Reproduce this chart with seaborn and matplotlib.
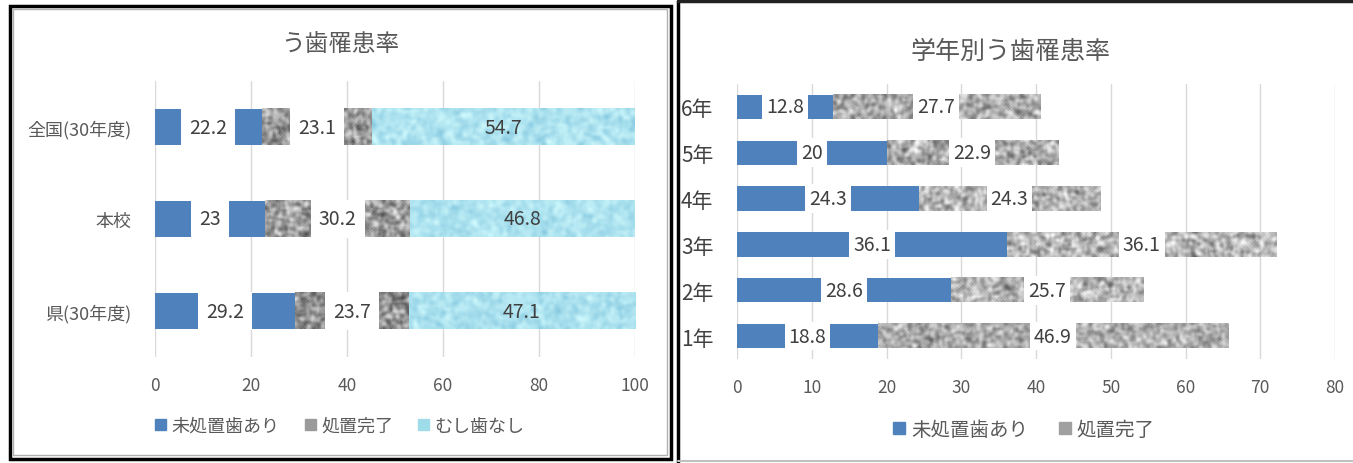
import numpy as np
import pandas as pd
import matplotlib
matplotlib.use("Agg")
import matplotlib.pyplot as plt
import matplotlib.patches as mpatches
from matplotlib.lines import Line2D
import seaborn as sns

# ---------------- data ----------------
left_title = "う歯罹患率"
left_categories = ["全国(30年度)", "本校", "県(30年度)"]
left_untreated = [22.2, 23, 29.2]
left_treated = [23.1, 30.2, 23.7]
left_none = [54.7, 46.8, 47.1]
left_series = ["未処置歯あり", "処置完了", "むし歯なし"]
left_xticks = [0, 20, 40, 60, 80, 100]

right_title = "学年別う歯罹患率"
right_categories = ["6年", "5年", "4年", "3年", "2年", "1年"]
right_untreated = [12.8, 20, 24.3, 36.1, 28.6, 18.8]
right_treated = [27.7, 22.9, 24.3, 36.1, 25.7, 46.9]
right_series = ["未処置歯あり", "処置完了"]
right_xticks = [0, 10, 20, 30, 40, 50, 60, 70, 80]

BLUE = "#4f81bd"
GRAY_MEAN = "#a6a6a6"
CYAN_MEAN = "#9fdcea"
TXT = "#595959"
LBL = "#404040"

sns.set_theme(style="white")
plt.rcParams["font.family"] = ["Noto Sans CJK JP", "DejaVu Sans"]

W, H = 1353, 464
fig = plt.figure(figsize=(W / 100, H / 100), dpi=100)


def fx(px):
    return px / W


def fy(py):
    return 1 - py / H


tex_rng = np.random.default_rng(7)


def smooth(a, n):
    for _ in range(n):
        a = (a + np.roll(a, 1, 0) + np.roll(a, -1, 0) + np.roll(a, 1, 1) + np.roll(a, -1, 1)) / 5.0
    return a


def gray_texture(h, w, light=0.0):
    a = smooth(tex_rng.random((h, w)), 2)
    a = (a - a.min()) / (np.ptp(a) + 1e-9)
    g = 0.30 + 0.62 * a + light
    g = np.clip(g, 0, 1)
    return np.dstack([g, g, g])


def cyan_texture(h, w):
    a = smooth(tex_rng.random((h, w)), 4)
    a = (a - a.min()) / (np.ptp(a) + 1e-9)
    b = smooth(tex_rng.random((h, w)), 1)
    b = (b - b.min()) / (np.ptp(b) + 1e-9)
    base = np.array([0.68, 0.89, 0.94])
    var = np.array([0.36, 0.24, 0.14])
    m = 0.75 * a + 0.25 * b
    img = base[None, None, :] + (m[:, :, None] - 0.5) * var[None, None, :]
    return np.clip(img, 0, 1)


def add_texture(ax, container, kind, light=0.0):
    for p in container.patches:
        x0, y0 = p.get_x(), p.get_y()
        w, h = p.get_width(), p.get_height()
        (px0, py0) = ax.transData.transform((x0, y0))
        (px1, py1) = ax.transData.transform((x0 + w, y0 + h))
        wp = max(2, int(abs(px1 - px0) / 1.5))
        hp = max(2, int(abs(py1 - py0) / 1.5))
        img = gray_texture(hp, wp, light) if kind == "gray" else cyan_texture(hp, wp)
        ax.imshow(img, extent=(x0, x0 + w, y0 + h, y0), aspect="auto",
                  interpolation="bilinear", zorder=p.get_zorder() + 0.1)


def style_axes(ax, xticks, ylabel_size, ylabel_color):
    ax.set_xlim(xticks[0], xticks[-1])
    ax.set_xticks(xticks)
    ax.xaxis.grid(True, color="#d9d9d9", linewidth=1)
    ax.set_axisbelow(True)
    for s in ax.spines.values():
        s.set_visible(False)
    ax.tick_params(axis="x", length=0, pad=14, labelsize=12.5, labelcolor=TXT)
    ax.tick_params(axis="y", length=0, pad=17, labelsize=ylabel_size, labelcolor=ylabel_color)
    ax.set_xlabel("")
    ax.set_ylabel("")


# ---------------- left chart ----------------
axL = fig.add_axes([fx(155), fy(358), fx(635) - fx(155), fy(82) - fy(358)])
off1 = np.array(left_untreated, dtype=float)
off2 = off1 + np.array(left_treated, dtype=float)
sns.barplot(x=left_untreated, y=left_categories, order=left_categories, orient="y",
            width=0.4, color=BLUE, saturation=1, linewidth=0, ax=axL)
sns.barplot(x=left_treated, y=left_categories, order=left_categories, orient="y",
            width=0.4, color=GRAY_MEAN, saturation=1, linewidth=0, left=off1, ax=axL)
sns.barplot(x=left_none, y=left_categories, order=left_categories, orient="y",
            width=0.4, color=CYAN_MEAN, saturation=1, linewidth=0, left=off2, ax=axL)
style_axes(axL, left_xticks, 13, TXT)
axL.set_ylim(len(left_categories) - 0.5, -0.5)
cL = axL.containers
add_texture(axL, cL[1], "gray")
add_texture(axL, cL[2], "cyan")
axL.set_xlim(left_xticks[0], left_xticks[-1])
axL.set_ylim(len(left_categories) - 0.5, -0.5)
box = dict(boxstyle="square,pad=0.42", fc="white", ec="none")
axL.bar_label(cL[0], labels=[f"{v:g}" for v in left_untreated], label_type="center",
              fontsize=14, color=LBL, bbox=box)
axL.bar_label(cL[1], labels=[f"{v:g}" for v in left_treated], label_type="center",
              fontsize=14, color=LBL, bbox=box)
axL.bar_label(cL[2], labels=[f"{v:g}" for v in left_none], label_type="center",
              fontsize=14, color=LBL)
hL = [mpatches.Patch(color=BLUE), mpatches.Patch(color="#9a9a9a"), mpatches.Patch(color=CYAN_MEAN)]
axL.legend(hL, left_series, loc="center", bbox_to_anchor=((340 - 155) / 480, -0.25),
           ncol=3, frameon=False, fontsize=13, labelcolor=TXT, handlelength=0.6,
           handleheight=0.6, handletextpad=0.3, columnspacing=1.4)
fig.text(fx(340), fy(45), left_title, ha="center", va="center", fontsize=17, color=TXT)

# ---------------- right chart ----------------
axR = fig.add_axes([fx(737), fy(360), fx(1335) - fx(737), fy(85) - fy(360)])
roff = np.array(right_untreated, dtype=float)
sns.barplot(x=right_untreated, y=right_categories, order=right_categories, orient="y",
            width=0.53, color=BLUE, saturation=1, linewidth=0, ax=axR)
sns.barplot(x=right_treated, y=right_categories, order=right_categories, orient="y",
            width=0.53, color=GRAY_MEAN, saturation=1, linewidth=0, left=roff, ax=axR)
style_axes(axR, right_xticks, 15, LBL)
axR.set_ylim(len(right_categories) - 0.5, -0.5)
cR = axR.containers
add_texture(axR, cR[1], "gray", light=0.08)
axR.set_xlim(right_xticks[0], right_xticks[-1])
axR.set_ylim(len(right_categories) - 0.5, -0.5)
boxR = dict(boxstyle="square,pad=0.2", fc="white", ec="none")
axR.bar_label(cR[0], labels=[f"{v:g}" for v in right_untreated], label_type="center",
              fontsize=14, color=LBL, bbox=boxR)
axR.bar_label(cR[1], labels=[f"{v:g}" for v in right_treated], label_type="center",
              fontsize=14, color=LBL, bbox=boxR)
hR = [mpatches.Patch(color=BLUE), mpatches.Patch(color="#a0a0a0")]
axR.legend(hR, right_series, loc="center", bbox_to_anchor=((1024 - 737) / 598, -0.255),
           ncol=2, frameon=False, fontsize=14, labelcolor=TXT, handlelength=0.6,
           handleheight=0.6, handletextpad=0.3, columnspacing=1.6)
fig.text(fx(1010), fy(52), right_title, ha="center", va="center", fontsize=18, color=TXT)

# ---------------- frames ----------------
fig.add_artist(mpatches.Rectangle((fx(10), fy(460)), fx(671) - fx(10), fy(7) - fy(460),
                                  transform=fig.transFigure, fill=False, ec="black", lw=2.5))
fig.add_artist(mpatches.Rectangle((fx(13), fy(456)), fx(667) - fx(13), fy(10) - fy(456),
                                  transform=fig.transFigure, fill=False, ec="#b0b0b0", lw=1))
fig.add_artist(Line2D([fx(678), fx(678)], [fy(2), fy(463)], transform=fig.transFigure,
                      color="black", lw=2.5))
fig.add_artist(Line2D([fx(678), fx(1353)], [fy(2), fy(2)], transform=fig.transFigure,
                      color="#222222", lw=2.5))
fig.add_artist(Line2D([fx(678), fx(1353)], [fy(462), fy(462)], transform=fig.transFigure,
                      color="#c0c0c0", lw=1.5))

fig.savefig("out.png", dpi=100)
